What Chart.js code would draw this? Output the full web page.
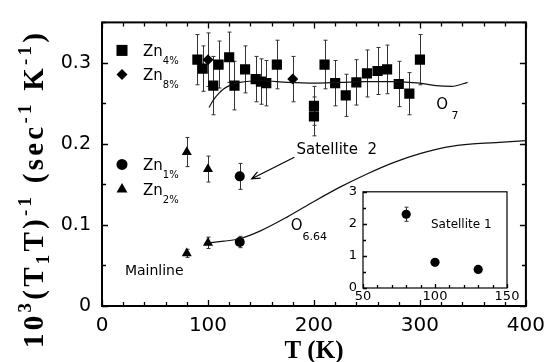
<!DOCTYPE html>
<html>
<head>
<meta charset="utf-8">
<script src="https://cdn.jsdelivr.net/npm/chart.js@4.4.1/dist/chart.umd.min.js"></script>
<style>
  html, body { margin: 0; padding: 0; background: #fff; }
  #wrap { position: relative; width: 553px; height: 362px; }
  #main { position: absolute; left: 0; top: 0; }
  #inset { position: absolute; left: 330px; top: 178px; }
</style>
</head>
<body>
<div id="wrap">
  <canvas id="main" width="553" height="362"></canvas>
  <canvas id="inset" width="195" height="130"></canvas>
</div>
<script>
// --- data -----------------------------------------------------
// Zn 4% (squares)
const zn4T = [90, 95, 105, 110, 120, 125, 135, 145, 150, 155, 165, 200, 200, 210, 220, 230, 240, 250, 260, 269, 280, 290, 300];
const zn4Rate = [0.304, 0.293, 0.272, 0.298, 0.307, 0.272, 0.292, 0.280, 0.277, 0.275, 0.298, 0.247, 0.234, 0.298, 0.275, 0.260, 0.276, 0.287, 0.290, 0.292, 0.274, 0.262, 0.304];
const zn4Err = [0.031, 0.028, 0.036, 0.029, 0.031, 0.030, 0.029, 0.028, 0.028, 0.028, 0.030, 0.024, 0.024, 0.030, 0.028, 0.026, 0.028, 0.029, 0.029, 0.030, 0.028, 0.026, 0.031];
// Zn 8% (diamonds)
const zn8T = [100, 180];
const zn8Rate = [0.304, 0.280];
const zn8Err = [0.033, 0.028];
// Zn 1% (circles): satellite 2, mainline
const zn1T = [130, 130];
const zn1Rate = [0.160, 0.079];
const zn1Err = [0.016, 0.007];
// Zn 2% (triangles): satellite 2, mainline
const zn2T = [80, 100, 80, 100];
const zn2Rate = [0.190, 0.169, 0.065, 0.078];
const zn2Err = [0.018, 0.016, 0.005, 0.007];
// curves
const o7T = [101, 105, 110, 115, 120, 130, 150, 175, 200, 225, 250, 275, 300, 315, 330, 345];
const o7Rate = [0.245, 0.254, 0.262, 0.268, 0.272, 0.276, 0.278, 0.276, 0.275, 0.276, 0.277, 0.277, 0.275, 0.272, 0.271, 0.276];
const o664T = [100, 115, 130, 150, 175, 200, 225, 250, 275, 300, 325, 350, 375, 400];
const o664Rate = [0.078, 0.080, 0.083, 0.093, 0.110, 0.129, 0.147, 0.163, 0.177, 0.188, 0.196, 0.200, 0.202, 0.204];
// inset: satellite 1
const sat1T = [80, 100, 130];
const sat1Rate = [2.3, 0.8, 0.58];
const sat1Err = [0.22, 0, 0];
// tick labels
const xTickLabels = [0, 100, 200, 300, 400];
const yTickLabels = [0, 0.1, 0.2, 0.3];
const insetXLabels = [50, 100, 150];
const insetYLabels = [0, 1, 2, 3];

const SANS = '"DejaVu Sans", sans-serif';
const SERIF = '"Liberation Serif", serif';

const pts = (xs, ys) => xs.map((t, i) => ({ x: t, y: ys[i] }));
const hasLabel = (list, v) => list.some((l) => Math.abs(l - v) < 1e-6);

// error bars, drawn under the markers
const errorBars = {
  id: "errorBars",
  beforeDatasetsDraw(chart) {
    const { ctx, scales: { x, y } } = chart;
    ctx.save();
    ctx.strokeStyle = "#333";
    ctx.lineWidth = 1;
    chart.data.datasets.forEach((ds) => {
      if (!ds.errors) return;
      ds.data.forEach((p, i) => {
        const e = ds.errors[i];
        if (!e) return;
        const px = Math.round(x.getPixelForValue(p.x)) + 0.5;
        const y1 = y.getPixelForValue(p.y + e);
        const y2 = y.getPixelForValue(p.y - e);
        ctx.beginPath();
        ctx.moveTo(px, y1);
        ctx.lineTo(px, y2);
        ctx.moveTo(px - 2, y1);
        ctx.lineTo(px + 2, y1);
        ctx.moveTo(px - 2, y2);
        ctx.lineTo(px + 2, y2);
        ctx.stroke();
      });
    });
    ctx.restore();
  },
};

// box + inward ticks
function frameTicks(opts) {
  return {
    id: "frameTicks",
    beforeDraw(chart) {
      const a = chart.chartArea;
      chart.ctx.save();
      chart.ctx.fillStyle = "#fff";
      chart.ctx.fillRect(a.left, a.top, a.right - a.left, a.bottom - a.top);
      chart.ctx.restore();
    },
    afterDatasetsDraw(chart) {
      const { ctx, chartArea: a, scales: { x, y } } = chart;
      ctx.save();
      ctx.strokeStyle = "#000";
      ctx.lineWidth = 1.3;
      ctx.beginPath();
      x.ticks.forEach((t) => {
        const px = Math.round(x.getPixelForValue(t.value)) + 0.5;
        const len = t.label ? opts.major : opts.minor;
        ctx.moveTo(px, a.bottom);
        ctx.lineTo(px, a.bottom - len);
        if (opts.allSides) {
          ctx.moveTo(px, a.top);
          ctx.lineTo(px, a.top + len);
        }
      });
      y.ticks.forEach((t) => {
        const py = Math.round(y.getPixelForValue(t.value)) + 0.5;
        const len = t.label ? opts.major : opts.minor;
        ctx.moveTo(a.left, py);
        ctx.lineTo(a.left + len, py);
        if (opts.allSides) {
          ctx.moveTo(a.right, py);
          ctx.lineTo(a.right - len, py);
        }
      });
      ctx.stroke();
      ctx.lineWidth = opts.frame;
      ctx.strokeRect(a.left, a.top, a.right - a.left, a.bottom - a.top);
      ctx.restore();
    },
  };
}

// text made of pieces (sub / superscripts)
function drawRich(ctx, x, y, parts, spacing) {
  let cx = x;
  parts.forEach((p) => {
    ctx.font = p.font;
    for (const ch of p.text) {
      ctx.fillText(ch, cx, y + (p.dy || 0));
      cx += ctx.measureText(ch).width + (spacing || 0);
    }
  });
  return cx - x;
}

function marker(ctx, style, r, x, y) {
  Chart.helpers.drawPoint(ctx, { pointStyle: style, radius: r, rotation: 0, borderWidth: 0 }, x, y);
}

// titles, legend and labels of the main chart
const notes = {
  id: "notes",
  afterDraw(chart) {
    const { ctx, chartArea: a, scales: { x, y } } = chart;
    const X = (t) => x.getPixelForValue(t);
    const Y = (v) => y.getPixelForValue(v);
    ctx.save();
    ctx.fillStyle = "#000";
    ctx.strokeStyle = "#000";
    ctx.textAlign = "left";
    ctx.textBaseline = "alphabetic";

    // y title, rotated
    const big = "bold 29px " + SERIF;
    const small = "bold 19px " + SERIF;
    const title = [
      { text: "10", font: big },
      { text: "3", font: small, dy: -12 },
      { text: "(T", font: big },
      { text: "1", font: small, dy: 6 },
      { text: "T)", font: big },
      { text: "-1", font: small, dy: -12 },
      { text: " (sec", font: big },
      { text: "-1", font: small, dy: -12 },
      { text: " K", font: big },
      { text: "-1", font: small, dy: -12 },
      { text: ")", font: big },
    ];
    let natural = 0;
    let nChars = 0;
    title.forEach((p) => {
      ctx.font = p.font;
      for (const ch of p.text) {
        natural += ctx.measureText(ch).width;
        nChars++;
      }
    });
    const span = 315;
    const gap = Math.max(0, (span - natural) / (nChars - 1));
    ctx.save();
    ctx.translate(43, 348);
    ctx.rotate(-Math.PI / 2);
    drawRich(ctx, 0, 0, title, gap);
    ctx.restore();

    // x title
    ctx.font = "bold 25px " + SERIF;
    ctx.textAlign = "center";
    ctx.fillText("T (K)", (a.left + a.right) / 2, 358);
    ctx.textAlign = "left";

    // legend
    const rows = [
      { style: "rect", r: 7.8, sub: "4%", dy: 28 },
      { style: "rectRot", r: 5.5, sub: "8%", dy: 52 },
      { style: "circle", r: 5.5, sub: "1%", dy: 142 },
      { style: "triangle", r: 6.3, sub: "2%", dy: 167 },
    ];
    rows.forEach((row) => {
      const my = a.top + row.dy;
      marker(ctx, row.style, row.r, a.left + 20, my);
      drawRich(ctx, a.left + 41, my + 6, [
        { text: "Zn", font: "15px " + SANS },
        { text: row.sub, font: "10px " + SANS, dy: 8 },
      ]);
    });

    // labels
    ctx.font = "15px " + SANS;
    ctx.fillText("Satellite  2", X(183.5), Y(0.1872));
    ctx.font = "14px " + SANS;
    ctx.fillText("Mainline", X(21.6), Y(0.0384));
    drawRich(ctx, X(178), Y(0.0936), [
      { text: "O", font: "15px " + SANS },
      { text: "6.64", font: "11px " + SANS, dy: 10 },
    ]);
    drawRich(ctx, X(315.3), Y(0.2436), [
      { text: "O", font: "15px " + SANS },
      { text: " 7", font: "11px " + SANS, dy: 10 },
    ]);

    // arrow to the satellite 2 point
    const x0 = X(181.5), y0 = Y(0.1836), x1 = X(141.2), y1 = Y(0.157);
    const ang = Math.atan2(y1 - y0, x1 - x0);
    ctx.lineWidth = 1.2;
    ctx.beginPath();
    ctx.moveTo(x0, y0);
    ctx.lineTo(x1, y1);
    ctx.moveTo(x1 - 9 * Math.cos(ang - 0.4), y1 - 9 * Math.sin(ang - 0.4));
    ctx.lineTo(x1, y1);
    ctx.lineTo(x1 - 9 * Math.cos(ang + 0.4), y1 - 9 * Math.sin(ang + 0.4));
    ctx.stroke();
    ctx.restore();
  },
};

const curveStyle = { type: "line", showLine: true, borderColor: "#111", borderWidth: 1.2, pointRadius: 0, tension: 0.4, cubicInterpolationMode: "monotone", fill: false };
const dotStyle = { type: "scatter", showLine: false, backgroundColor: "#000", borderColor: "#000", borderWidth: 0, pointHoverRadius: 0 };

new Chart(document.getElementById("main"), {
  data: {
    datasets: [
      { ...curveStyle, label: "O7", data: pts(o7T, o7Rate) },
      { ...curveStyle, label: "O6.64", data: pts(o664T, o664Rate) },
      { ...dotStyle, label: "Zn4%", data: pts(zn4T, zn4Rate), errors: zn4Err, pointStyle: "rect", pointRadius: 7.2 },
      { ...dotStyle, label: "Zn8%", data: pts(zn8T, zn8Rate), errors: zn8Err, pointStyle: "rectRot", pointRadius: 5.5 },
      { ...dotStyle, label: "Zn1%", data: pts(zn1T, zn1Rate), errors: zn1Err, pointStyle: "circle", pointRadius: 5 },
      { ...dotStyle, label: "Zn2%", data: pts(zn2T, zn2Rate), errors: zn2Err, pointStyle: "triangle", pointRadius: 5.8 },
    ],
  },
  options: {
    responsive: false,
    animation: false,
    events: [],
    layout: { padding: { top: 14, right: 26, left: 0, bottom: 0 } },
    plugins: { legend: { display: false }, tooltip: { enabled: false } },
    scales: {
      x: {
        type: "linear",
        min: 0,
        max: 400,
        grid: { display: false, drawTicks: false },
        border: { display: false },
        afterFit: (s) => { s.height = 56; },
        ticks: {
          stepSize: 20,
          autoSkip: false,
          maxRotation: 0,
          padding: 8,
          color: "#000",
          font: { family: SANS, size: 20 },
          callback: (v) => (hasLabel(xTickLabels, v) ? String(v) : ""),
        },
      },
      y: {
        type: "linear",
        min: 0,
        max: 0.35,
        grid: { display: false, drawTicks: false },
        border: { display: false },
        afterFit: (s) => { s.width = 102; },
        ticks: {
          stepSize: 0.05,
          autoSkip: false,
          padding: 11,
          color: "#000",
          font: { family: SANS, size: 19 },
          callback: (v) => (hasLabel(yTickLabels, v) ? (v === 0 ? "0" : v.toFixed(1)) : ""),
        },
      },
    },
  },
  plugins: [frameTicks({ major: 6, minor: 4, frame: 2, allSides: true }), errorBars, notes],
});

// inset: satellite 1
const insetNotes = {
  id: "insetNotes",
  afterDraw(chart) {
    const { ctx, scales: { x, y } } = chart;
    ctx.save();
    ctx.fillStyle = "#000";
    ctx.font = "12px " + SANS;
    ctx.textBaseline = "alphabetic";
    ctx.fillText("Satellite 1", x.getPixelForValue(97.2), y.getPixelForValue(1.87));
    ctx.restore();
  },
};

new Chart(document.getElementById("inset"), {
  data: {
    datasets: [
      { ...dotStyle, label: "Satellite 1", data: pts(sat1T, sat1Rate), errors: sat1Err, pointStyle: "circle", pointRadius: 4.6 },
    ],
  },
  options: {
    responsive: false,
    animation: false,
    events: [],
    layout: { padding: { top: 12, right: 18, left: 0, bottom: 0 } },
    plugins: { legend: { display: false }, tooltip: { enabled: false } },
    scales: {
      x: {
        type: "linear",
        min: 50,
        max: 150,
        grid: { display: false, drawTicks: false },
        border: { display: false },
        afterFit: (s) => { s.height = 20; },
        ticks: {
          stepSize: 10,
          autoSkip: false,
          maxRotation: 0,
          padding: 1,
          color: "#000",
          font: { family: SANS, size: 13 },
          callback: (v) => (hasLabel(insetXLabels, v) ? String(v) : ""),
        },
      },
      y: {
        type: "linear",
        min: 0,
        max: 3,
        grid: { display: false, drawTicks: false },
        border: { display: false },
        afterFit: (s) => { s.width = 33; },
        ticks: {
          stepSize: 0.5,
          autoSkip: false,
          padding: 6,
          color: "#000",
          font: { family: SANS, size: 13 },
          callback: (v) => (hasLabel(insetYLabels, v) ? String(v) : ""),
        },
      },
    },
  },
  plugins: [frameTicks({ major: 4, minor: 3, frame: 1.2, allSides: false }), errorBars, insetNotes],
});
</script>
</body>
</html>
